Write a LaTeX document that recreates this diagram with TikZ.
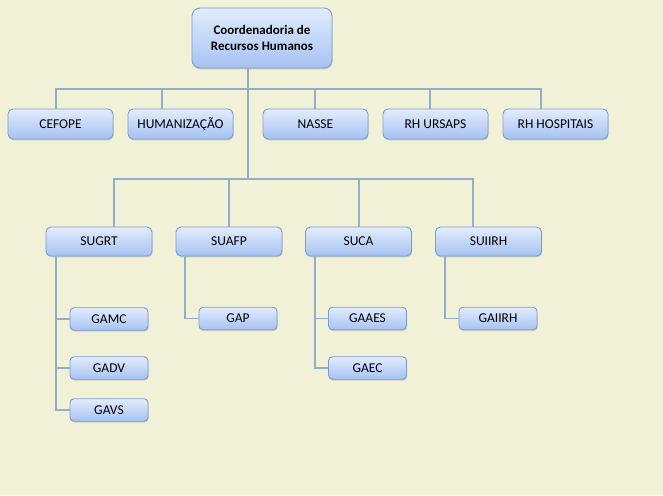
\documentclass[tikz,border=0pt]{standalone}
\usepackage{fontspec}
\setmainfont{Carlito}
\usetikzlibrary{shadows}
\definecolor{bg}{HTML}{F1F1D8}
\definecolor{boxtop}{HTML}{E2ECFC}
\definecolor{boxbot}{HTML}{A6C2F3}
\definecolor{boxline}{HTML}{7C9DCF}
\definecolor{conn}{HTML}{93AECB}
\tikzset{
  orgbox/.style={draw=boxline, line width=0.9pt, rounded corners=5pt,
    top color=boxtop, bottom color=boxbot, inner sep=0pt,
    font=\fontsize{13.5}{16}\selectfont, text=black,
    drop shadow={shadow xshift=0.6pt, shadow yshift=-1.4pt, opacity=0.25, fill=black!60}},
  bigbox/.style={orgbox, minimum width=105pt, minimum height=30pt},
  smallbox/.style={orgbox, minimum width=78pt, minimum height=22.5pt, rounded corners=4pt},
  topbox/.style={orgbox, minimum width=140pt, minimum height=60pt, rounded corners=8pt,
    align=center, font=\fontsize{13}{16}\selectfont\bfseries},
  link/.style={draw=conn, line width=1.6pt}
}
\begin{document}
\begin{tikzpicture}[x=1pt,y=-1pt]
\fill[bg] (0,0) rectangle (663,495);
\useasboundingbox (0,0) rectangle (663,495);

\node[topbox] (top) at (262,38) {Coordenadoria de\\Recursos Humanos};

\node[bigbox] (cefope) at (60.5,124) {CEFOPE};
\node[bigbox] (human) at (180.5,124) {HUMANIZAÇÃO};
\node[bigbox] (nasse) at (315.5,124) {NASSE};
\node[bigbox] (ursaps) at (435.5,124) {RH URSAPS};
\node[bigbox] (hosp) at (555.5,124) {RH HOSPITAIS};

\node[bigbox, minimum width=106pt, minimum height=29pt] (sugrt) at (99,241.5) {SUGRT};
\node[bigbox, minimum width=106pt, minimum height=29pt] (suafp) at (229,241.5) {SUAFP};
\node[bigbox, minimum width=106pt, minimum height=29pt] (suca) at (358.5,241.5) {SUCA};
\node[bigbox, minimum width=106pt, minimum height=29pt] (suiirh) at (488.5,241.5) {SUIIRH};

\node[smallbox] (gamc) at (109,319) {GAMC};
\node[smallbox] (gadv) at (109,368) {GADV};
\node[smallbox] (gavs) at (109,410) {GAVS};
\node[smallbox] (gap) at (238,318.5) {GAP};
\node[smallbox] (gaaes) at (367.5,318.5) {GAAES};
\node[smallbox] (gaec) at (367.5,368) {GAEC};
\node[smallbox] (gaiirh) at (498,318.5) {GAIIRH};

\coordinate (bus1) at (248,89);
\coordinate (bus2) at (248,179);

% trunk
\draw[link] ([xshift=-14pt]top.south) -- (bus2);
% row 1
\draw[link] ([xshift=-4.5pt]cefope.north) |- (bus1);
\draw[link] ([xshift=-18.5pt]human.north) |- (bus1);
\draw[link] ([xshift=-0.5pt]nasse.north) |- (bus1);
\draw[link] ([xshift=-5.5pt]ursaps.north) |- (bus1);
\draw[link] ([xshift=-14.5pt]hosp.north) |- (bus1);
% row 2
\draw[link] ([xshift=15pt]sugrt.north) |- (bus2);
\draw[link] (suafp.north) |- (bus2);
\draw[link] ([xshift=0.5pt]suca.north) |- (bus2);
\draw[link] ([xshift=-15.5pt]suiirh.north) |- (bus2);
% children
\draw[link] ([xshift=-43pt]sugrt.south) |- (gamc.west);
\draw[link] ([xshift=-43pt]sugrt.south) |- (gadv.west);
\draw[link] ([xshift=-43pt]sugrt.south) |- (gavs.west);
\draw[link] ([xshift=-44pt]suafp.south) |- (gap.west);
\draw[link] ([xshift=-43.5pt]suca.south) |- (gaaes.west);
\draw[link] ([xshift=-43.5pt]suca.south) |- (gaec.west);
\draw[link] ([xshift=-43.5pt]suiirh.south) |- (gaiirh.west);
\end{tikzpicture}
\end{document}
